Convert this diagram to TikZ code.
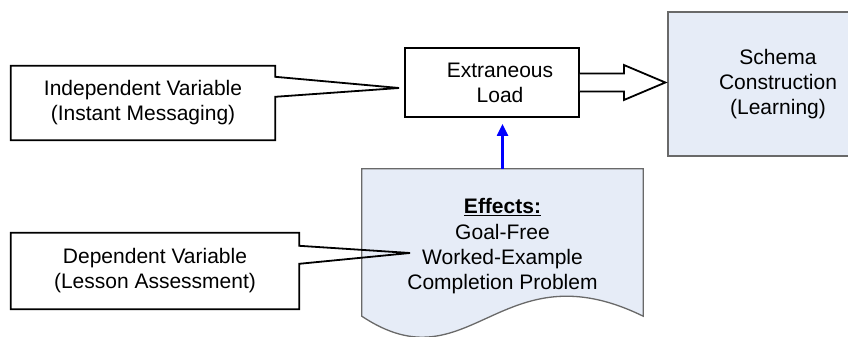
\documentclass[tikz,border=0pt]{standalone}
\usepackage{fontspec}
\setmainfont{Liberation Sans}
\usetikzlibrary{arrows.meta,calc}
\definecolor{paleblue}{RGB}{230,236,247}
\definecolor{edgegray}{RGB}{105,105,105}

\begin{document}
\begin{tikzpicture}[x=1pt,y=-1pt,
    txt/.style={align=center,inner sep=0pt,font=\fontsize{21}{25}\selectfont},
    blackedge/.style={draw=black,line width=1.8pt,line join=miter},
    grayedge/.style={draw=edgegray,line width=1.3pt}]
  \clip (0,0) rectangle (848,337);

  % document shape with the effects
  \node[minimum width=281,minimum height=147] (effects) at (502.5,242.5) {};
  \draw[grayedge,fill=paleblue] (effects.south west) -- (effects.north west) -- (effects.north east) -- (effects.south east)
    .. controls ($(effects.south east)+(-143,-70)$) and ($(effects.south west)+(108,72)$) .. (effects.south west) -- cycle;
  \node[txt,font=\fontsize{21}{25.3}\selectfont] at ($(effects.center)+(0,4)$)
    {\underline{\textbf{Effects:}}\\Goal-Free\\Worked-Example\\Completion Problem};

  % the two callouts
  \node[txt,fill=white,minimum width=288,minimum height=76] (dep) at (155,271)
    {Dependent Variable\\(Lesson Assessment)};
  \coordinate (deptip) at (410,253);
  \draw[blackedge] (dep.north east) -- ++(0,13) -- (deptip) -- ($(dep.north east)+(0,31)$)
    -- (dep.south east) -- (dep.south west) -- (dep.north west) -- cycle;

  \node[txt,blackedge,minimum width=174,minimum height=69] (load) at (492,82.5) {};
  \node[txt] at ($(load.center)+(8,0)$) {Extraneous\\Load};

  \node[txt,fill=white,minimum width=264,minimum height=74] (indep) at (143,103)
    {Independent Variable\\(Instant Messaging)};
  \coordinate (indeptip) at ($(load.west)+(-5,5.5)$);
  \draw[blackedge] (indep.north east) -- ++(0,11) -- (indeptip) -- ($(indep.north east)+(0,31)$)
    -- (indep.south east) -- (indep.south west) -- (indep.north west) -- cycle;

  \node[txt,grayedge,fill=paleblue,minimum width=220,minimum height=144] (schema) at (778,84)
    {Schema\\Construction\\(Learning)};

  % block arrow into the schema box
  \draw[blackedge,fill=white] ($(load.east)+(0,-9)$) -- ++(44,0) -- ++(0,-8.5)
    -- ($(schema.west |- load.east)+(-2,0)$)
    -- ($(load.east)+(44,17.5)$) -- ++(0,-8.5) -- ($(load.east)+(0,9)$);

  % effects act on the load
  \draw[-{Triangle[width=11pt,length=12pt]},blue,line width=2.2pt,shorten >=6pt]
    (effects.north) -- (effects.north |- load.south);
\end{tikzpicture}
\end{document}
